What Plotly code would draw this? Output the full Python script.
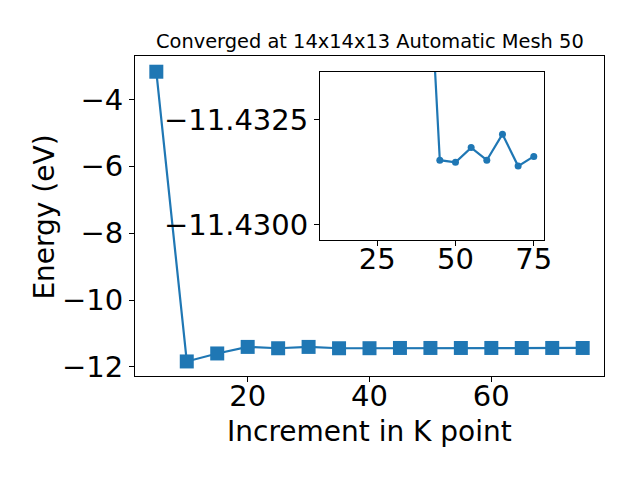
import plotly.graph_objects as go

k_points = [5, 10, 15, 20, 25, 30, 35, 40, 45, 50, 55, 60, 65, 70, 75]
energy = [-3.17, -11.835, -11.596, -11.40, -11.44, -11.40, -11.44, -11.4385,
          -11.43153, -11.43148, -11.43183, -11.43153, -11.43215, -11.43139, -11.43162]
inset_start = 7
title_text = "Converged at 14x14x13 Automatic Mesh 50"
xlabel = "Increment in K point"
ylabel = "Energy (eV)"
inset_yticks = [-11.4325, -11.4300]
inset_yticktext = ["\u221211.4325", "\u221211.4300"]

blue = "#1f77b4"
font = "DejaVu Sans"

fig = go.Figure()
fig.add_trace(go.Scatter(x=k_points, y=energy, mode="lines+markers",
                         line=dict(color=blue, width=2.2),
                         marker=dict(symbol="square", size=14, color=blue),
                         xaxis="x", yaxis="y", showlegend=False))
fig.add_trace(go.Scatter(x=k_points[inset_start:], y=energy[inset_start:], mode="lines+markers",
                         line=dict(color=blue, width=2.2),
                         marker=dict(symbol="circle", size=7, color=blue),
                         xaxis="x2", yaxis="y2", showlegend=False))

axis_common = dict(showline=True, mirror=True, linecolor="black", linewidth=1,
                   ticks="outside", ticklen=5, tickwidth=1, tickcolor="black",
                   showgrid=False, zeroline=False,
                   tickfont=dict(family=font, size=29, color="black"))

fig.update_layout(
    width=640, height=480,
    margin=dict(l=135, r=36, t=56, b=104),
    paper_bgcolor="white", plot_bgcolor="white",
    xaxis=dict(range=[1.5, 78.5], tickvals=[20, 40, 60], domain=[0, 1], anchor="y",
               ticklabelstandoff=-11, **axis_common),
    yaxis=dict(range=[-12.27, -2.70], tickvals=[-12, -10, -8, -6, -4], domain=[0, 1], anchor="x", **axis_common),
    xaxis2=dict(range=[6.75, 78.25], tickvals=[25, 50, 75], domain=[0.3945, 0.872], anchor="y2",
                ticklabelstandoff=-12, **axis_common),
    yaxis2=dict(range=[-11.42963, -11.43363], tickvals=inset_yticks, ticktext=inset_yticktext,
                domain=[0.425, 0.95], anchor="x2", **axis_common),
    annotations=[
        dict(text=title_text, x=0.5, y=1.044, xref="paper", yref="paper", showarrow=False,
             xanchor="center", yanchor="middle", font=dict(family=font, size=19.4, color="black")),
        dict(text=xlabel, x=0.5, y=-0.174, xref="paper", yref="paper", showarrow=False,
             xanchor="center", yanchor="middle", font=dict(family=font, size=28, color="black")),
        dict(text=ylabel, x=-0.192, y=0.498, xref="paper", yref="paper", showarrow=False,
             textangle=-90, xanchor="center", yanchor="middle", font=dict(family=font, size=28, color="black")),
    ],
)

fig.write_html("out.html", config={"displayModeBar": False},
               post_script="document.body.style.margin='0';document.body.style.padding='0';")
